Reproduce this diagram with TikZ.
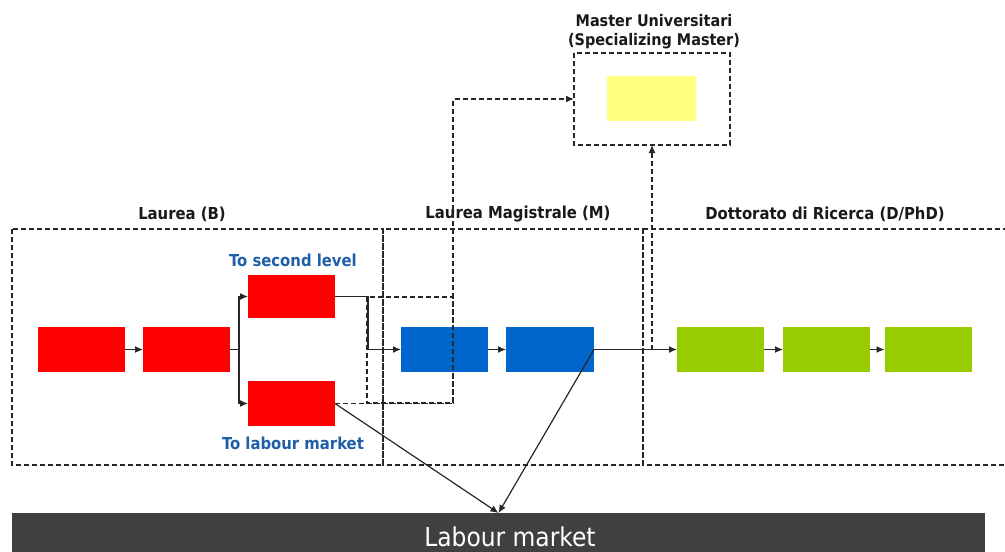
\documentclass[tikz,border=0pt]{standalone}
\usepackage{fontspec}
\setmainfont{DejaVu Sans Condensed}
\usetikzlibrary{arrows.meta,calc}
\definecolor{bred}{HTML}{FF0000}
\definecolor{bblue}{HTML}{0066CC}
\definecolor{bgreen}{HTML}{99CC00}
\definecolor{byellow}{HTML}{FFFF80}
\definecolor{bargray}{HTML}{404040}
\definecolor{labelblue}{HTML}{1F5FA8}
\begin{document}
\begin{tikzpicture}[x=1pt,y=-1pt,
  box/.style={draw=none,minimum width=87pt,minimum height=45pt,inner sep=0pt,outer sep=0pt},
  redbox/.style={box,fill=bred},
  bluebox/.style={box,fill=bblue},
  greenbox/.style={box,fill=bgreen},
  area/.style={draw=black!85,line width=1.2pt,dash pattern=on 5pt off 3pt},
  dconn/.style={draw=black!85,line width=1.2pt,dash pattern=on 5pt off 3pt},
  conn/.style={draw=black!85,line width=1.2pt},
  tip/.style={-{Latex[length=8pt,width=7pt]}},
  title/.style={font=\fontsize{16.5}{18}\selectfont\bfseries,text=black!90},
  bluelabel/.style={font=\fontsize{16.5}{18}\selectfont\bfseries,text=labelblue}]
\useasboundingbox (0,0) rectangle (1005,552);

% study cycles
\draw[area] (12,229) rectangle (383,465);
\draw[area] (383,229) rectangle (643,465);
\draw[area] (643,229) -- (643,465) -- (1010,465);
\draw[area] (643,229) -- (1010,229);
\node[title] (tb) at (182,214) {Laurea (B)};
\node[title] (tm) at (518,214) {Laurea Magistrale (M)};
\node[title] (td) at (825,214) {Dottorato di Ricerca (D/PhD)};

% specializing master
\draw[area] (574,53) rectangle (730,145);
\node[box,fill=byellow,minimum width=89pt] (y1) at (651.5,98.5) {};
\node[title,align=center,font=\fontsize{16}{19}\selectfont\bfseries] (tsm) at (654,32) {Master Universitari\\(Specializing Master)};
\coordinate (mw) at (574,99);
\coordinate (ms) at (652,145);

% bridge to second level
\draw[area] (367,297) rectangle (453,403);

% boxes
\node[redbox] (r1) at (81,349.5) {};
\node[redbox] (r2) at (186.5,349.5) {};
\node[redbox,minimum height=43pt] (r3) at (291.5,296.5) {};
\node[redbox] (r4) at (291.5,403.5) {};
\node[bluebox] (b1) at (444.5,349.5) {};
\node[bluebox,minimum width=88pt] (b2) at (550,349.5) {};
\node[greenbox] (g1) at (720.5,349.5) {};
\node[greenbox] (g2) at (826.5,349.5) {};
\node[greenbox] (g3) at (928,349.5) {};

\node[bluelabel] (l2) at (293,260) {To second level};
\node[bluelabel] (ll) at (293,443) {To labour market};

% labour market bar
\node[fill=bargray,minimum width=973pt,minimum height=50pt,inner sep=0pt,anchor=north] (lm) at (498.5,513) {};
\node[text=white,font=\fontsize{26}{28}\selectfont,inner sep=0pt,anchor=base] (lmt) at (510,546) {Labour market};

% connectors
\coordinate (j1) at (239,349.5);
\coordinate (j2) at (368,349.5);
\coordinate (j3) at (652,349.5);
\draw[conn,tip] (r1.east) -- (r2.west);
\draw[conn] (r2.east) -- (j1);
\draw[conn,tip] (j1) |- (r3.west);
\draw[conn,tip] (j1) |- (r4.west);
\draw[conn] (r3.east) -| (j2);
\draw[conn,tip] (j2) -- (b1.west);
\draw[conn,tip] (b1.east) -- (b2.west);
\draw[conn,tip] (b2.east) -- (g1.west);
\draw[conn,tip] (g1.east) -- (g2.west);
\draw[conn,tip] (g2.east) -- (g3.west);
\draw[conn,tip] (r4.east) -- (lm.north);
\draw[conn,tip] (b2.east) -- (lm.north);
\draw[dconn,tip] (r4.east) -| (453,99) -- (mw);
\draw[dconn,tip] (j3) -- (ms);
\end{tikzpicture}
\end{document}
